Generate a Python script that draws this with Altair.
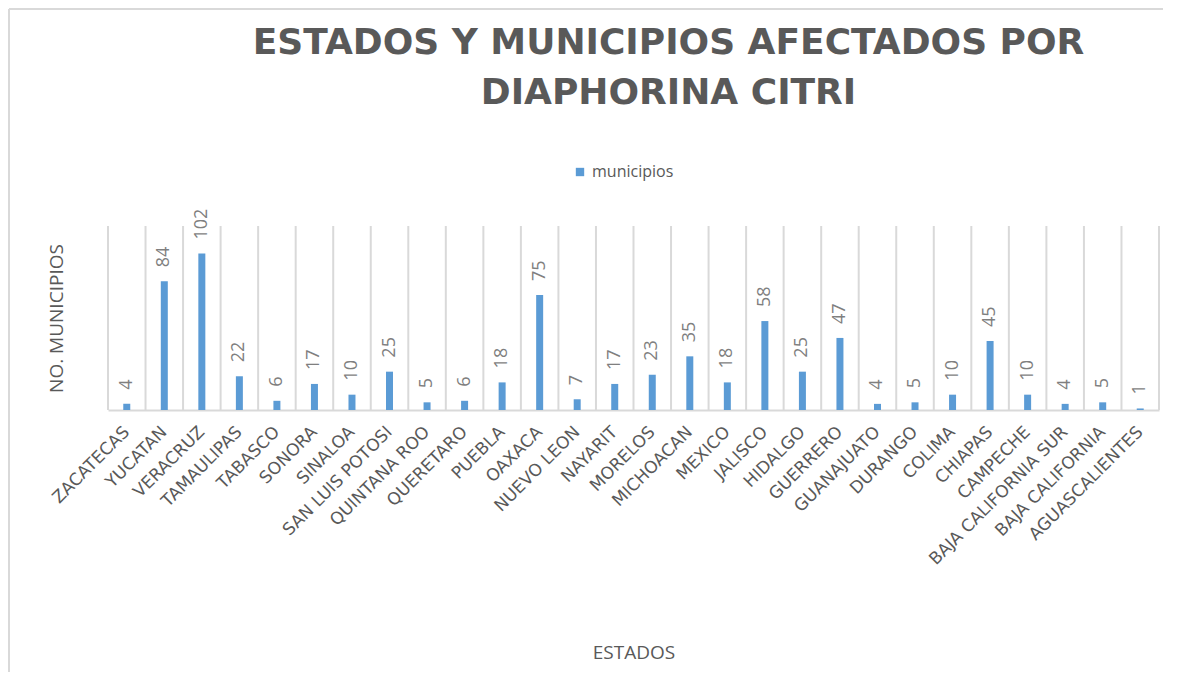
import altair as alt
import pandas as pd

estados = ["ZACATECAS", "YUCATAN", "VERACRUZ", "TAMAULIPAS", "TABASCO", "SONORA",
           "SINALOA", "SAN LUIS POTOSI", "QUINTANA ROO", "QUERETARO", "PUEBLA", "OAXACA",
           "NUEVO LEON", "NAYARIT", "MORELOS", "MICHOACAN", "MEXICO", "JALISCO",
           "HIDALGO", "GUERRERO", "GUANAJUATO", "DURANGO", "COLIMA", "CHIAPAS",
           "CAMPECHE", "BAJA CALIFORNIA SUR", "BAJA CALIFORNIA", "AGUASCALIENTES"]
municipios = [4, 84, 102, 22, 6, 17, 10, 25, 5, 6, 18, 75, 7, 17, 23, 35, 18, 58,
              25, 47, 4, 5, 10, 45, 10, 4, 5, 1]
serie = "municipios"

df = pd.DataFrame({"estado": estados, "valor": municipios, "serie": serie})

W, H = 1051, 184
GRAY = "#595959"
GRID = "#d9d9d9"
FONT = "Open Sans"

xenc = alt.X("estado:N", sort=None,
             scale=alt.Scale(paddingInner=0, paddingOuter=0),
             axis=alt.Axis(title="ESTADOS", labelAngle=-45, labelAlign="right",
                           labelBaseline="middle", labelPadding=19, labelFontSize=17,
                           labelColor=GRAY, labelFont="DejaVu Sans", labelLimit=0,
                           ticks=False, domainColor=GRID, domainWidth=2, grid=False,
                           titleFontSize=19, titleFontWeight="normal", titleColor=GRAY,
                           titleFont=FONT, titleY=242, titleBaseline="middle",
                           labelOverlap=False))
yenc = alt.Y("valor:Q", scale=alt.Scale(domain=[0, 120], nice=False),
             axis=alt.Axis(title="NO. MUNICIPIOS", labels=False, ticks=False,
                           domain=False, grid=False, titleFontSize=19,
                           titleFontWeight="normal", titleColor=GRAY, titleFont=FONT,
                           titleX=-52, titleBaseline="middle"))

base = alt.Chart(df)

grid = base.mark_rule(color=GRID, strokeWidth=2).encode(
    x=alt.X("estado:N", sort=None, bandPosition=0),
    y=alt.value(0), y2=alt.value(H))
grid_end = base.mark_rule(color=GRID, strokeWidth=2).encode(
    x=alt.value(W), y=alt.value(0), y2=alt.value(H))

bars = base.mark_bar(size=7, color="#5b9bd5").encode(
    x=xenc, y=yenc,
    color=alt.Color("serie:N", scale=alt.Scale(range=["#5b9bd5"]),
                    legend=alt.Legend(title=None, orient="none", legendX=464,
                                      legendY=-62, symbolType="square", symbolSize=70,
                                      labelFontSize=16, labelColor=GRAY, labelFont=FONT,
                                      labelOffset=4, padding=0, symbolStrokeWidth=0)))

labels = base.mark_text(angle=270, align="left", baseline="middle", dx=14,
                        fontSize=18, color="#7f7f7f", font=FONT).encode(
    x=alt.X("estado:N", sort=None), y="valor:Q", text="valor:Q")

border_left = base.mark_rule(color=GRID, strokeWidth=2).encode(
    x=alt.value(-99), y=alt.value(-217), y2=alt.value(480))
border_top = base.mark_rule(color=GRID, strokeWidth=2).encode(
    x=alt.value(-99), x2=alt.value(1070), y=alt.value(-217))

chart = alt.layer(grid, grid_end, bars, labels, border_left, border_top).properties(
    width=W, height=H,
    autosize=alt.AutoSizeParams(type="none"),
    padding={"left": 100, "top": 218, "right": 4, "bottom": 262},
    title=alt.Title(["ESTADOS Y MUNICIPIOS AFECTADOS POR", "DIAPHORINA CITRI"],
                    fontSize=36, font="DejaVu Sans", fontWeight="bold", color=GRAY,
                    anchor="middle", frame="group", dx=35, offset=-104, lineHeight=50)
).configure_view(stroke=None)

chart.save("out.html", embed_options={"renderer": "svg", "actions": False})
